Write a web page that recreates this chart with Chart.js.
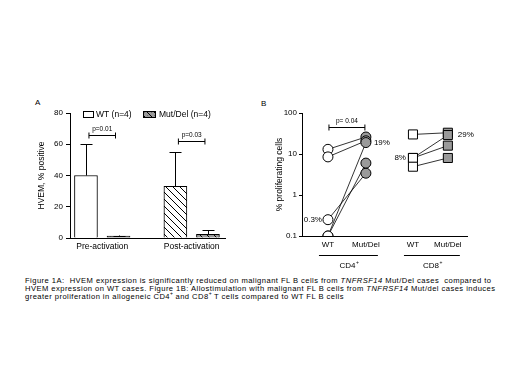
<!DOCTYPE html>
<html>
<head>
<meta charset="utf-8">
<script src="https://cdn.jsdelivr.net/npm/chart.js@4.4.0/dist/chart.umd.min.js"></script>
<style>
  html, body { margin: 0; padding: 0; background: #fff; }
  #page { position: relative; width: 520px; height: 390px; overflow: hidden; font-family: Arial, "Liberation Sans", sans-serif; color: #000; -webkit-font-smoothing: antialiased; }
  canvas { position: absolute; }
  .panel { position: absolute; font-size: 8px; }
  #caption { position: absolute; left: 25px; top: 276.5px; font-size: 7.6px; line-height: 8.2px; letter-spacing: 0.45px; white-space: nowrap; }
  #caption sup { font-size: 5px; line-height: 0; letter-spacing: 0; }
</style>
</head>
<body>
<div id="page">
  <div class="panel" style="left:35px; top:98px;">A</div>
  <div class="panel" style="left:261px; top:99px;">B</div>
  <canvas id="chart-a" width="200" height="165" style="left:30px; top:100px;"></canvas>
  <canvas id="chart-b" width="220" height="175" style="left:255px; top:100px;"></canvas>
  <div id="caption">
    Figure 1A:&nbsp; HVEM expression is significantly reduced on malignant FL B cells from <i>TNFRSF14</i> Mut/Del cases&nbsp; compared to<br>
    HVEM expression on WT cases. Figure 1B: Allostimulation with malignant FL B cells from <i>TNFRSF14</i> Mut/del cases induces<br>
    greater proliferation in allogeneic CD4<sup>+</sup> and CD8<sup>+</sup> T cells compared to WT FL B cells
  </div>
</div>
<script>
// ---- panel A: HVEM % positive ----
const phases = ['Pre-activation', 'Post-activation'];
const wtMean = [40, 33];
const wtSd = [20, 22];
const mutMean = [1.2, 2.4];
const mutSd = [0.4, 2.5];
const pLabelsA = ['p=0.01', 'p=0.03'];
const pLevelA = [66, 62];

// ---- panel B: % proliferating cells (log) ----
const groupLabels = ['WT', 'Mut/Del', 'WT', 'Mut/Del'];
const subsetLabels = ['CD4', 'CD8'];
const cd4Wt = [13, 8.5, 0.25, 0.1, 0.1];
const cd4Mut = [26, 21, 3.4, 19, 6];
const cd8Wt = [30, 8, 8, 4.9];
const cd8Mut = [33, 29, 16, 8];
const logTicks = [0.1, 1, 10, 100];
const pLabelB = 'p= 0.04';
const pLevelB = 46;

const FONT = 'Arial, "Liberation Sans", sans-serif';
const GREY = '#9a9a9a';

function makePattern(bg, hatch, dark) {
  const c = document.createElement('canvas');
  c.width = 7; c.height = 7;
  const g = c.getContext('2d');
  g.fillStyle = bg; g.fillRect(0, 0, 7, 7);
  if (dark) {
    g.fillStyle = '#6e6e6e';
    g.fillRect(0, 0, 1, 1); g.fillRect(3, 3, 1, 1); g.fillRect(5, 1, 1, 1); g.fillRect(2, 5, 1, 1);
  }
  if (hatch) {
    g.strokeStyle = '#000'; g.lineWidth = 1;
    g.beginPath(); g.moveTo(-1, -1); g.lineTo(8, 8); g.stroke();
    g.beginPath(); g.moveTo(-1, 6); g.lineTo(1, 8); g.stroke();
    g.beginPath(); g.moveTo(6, -1); g.lineTo(8, 1); g.stroke();
  }
  return g.createPattern(c, 'repeat');
}

// bar layout on a 0..10 linear axis
const groupCenters = [2.08, 7.85];
const barOffset = 1.05;

const fillsWt = ['#ffffff', makePattern('#ffffff', true, false)];
const fillsMut = [makePattern(GREY, false, true), makePattern(GREY, true, true)];

const errorBars = {
  id: 'errorBars',
  afterDatasetsDraw(chart) {
    const ctx = chart.ctx, y = chart.scales.y;
    const sds = [wtSd, mutSd], means = [wtMean, mutMean];
    ctx.save();
    ctx.strokeStyle = '#000'; ctx.lineWidth = 1;
    chart.data.datasets.forEach((ds, di) => {
      chart.getDatasetMeta(di).data.forEach((bar, i) => {
        const top = y.getPixelForValue(means[di][i] + sds[di][i]);
        const x = Math.round(bar.x) + 0.5;
        ctx.beginPath();
        ctx.moveTo(x, bar.y); ctx.lineTo(x, top);
        ctx.moveTo(x - 6, Math.round(top) + 0.5); ctx.lineTo(x + 6, Math.round(top) + 0.5);
        ctx.stroke();
      });
    });
    // significance brackets
    ctx.font = '6.5px ' + FONT; ctx.fillStyle = '#000'; ctx.textAlign = 'center'; ctx.textBaseline = 'bottom';
    const a = chart.getDatasetMeta(0).data, b = chart.getDatasetMeta(1).data;
    pLabelsA.forEach((p, i) => {
      const x1 = a[i].x + 3, x2 = b[i].x - 3, yy = Math.round(y.getPixelForValue(pLevelA[i])) + 0.5;
      ctx.beginPath();
      ctx.moveTo(x1, yy); ctx.lineTo(x2, yy);
      ctx.moveTo(x1, yy - 3); ctx.lineTo(x1, yy + 3);
      ctx.moveTo(x2, yy - 3); ctx.lineTo(x2, yy + 3);
      ctx.stroke();
      ctx.fillText(p, (x1 + x2) / 2, yy - 3);
    });
    // legend
    ctx.font = '8.5px ' + FONT; ctx.textAlign = 'left'; ctx.textBaseline = 'middle';
    const items = [[53, 10, 66], [113, 12, 129]];
    chart.data.datasets.forEach((ds, di) => {
      const [bx, bw, tx] = items[di];
      ctx.fillStyle = di === 0 ? '#fff' : fillsMut[1];
      ctx.fillRect(bx, 11, bw, 6);
      ctx.strokeRect(bx + 0.5, 11.5, bw, 6);
      ctx.fillStyle = '#000';
      ctx.fillText(ds.label, tx, 14.5);
    });
    ctx.restore();
  }
};

new Chart(document.getElementById('chart-a'), {
  type: 'bar',
  data: {
    datasets: [
      {
        label: 'WT (n=4)',
        data: wtMean.map((v, i) => ({ x: groupCenters[i] - barOffset, y: v })),
        backgroundColor: fillsWt, borderColor: '#000', borderWidth: 1,
        grouped: false, barThickness: 23,
      },
      {
        label: 'Mut/Del (n=4)',
        data: mutMean.map((v, i) => ({ x: groupCenters[i] + barOffset, y: v })),
        backgroundColor: fillsMut, borderColor: '#000', borderWidth: 1,
        grouped: false, barThickness: 23,
      },
    ],
  },
  options: {
    responsive: false, animation: false, devicePixelRatio: 1,
    layout: { padding: { top: 13, right: 5, left: 0, bottom: 0 } },
    plugins: { legend: { display: false }, tooltip: { enabled: false } },
    scales: {
      x: {
        type: 'linear', min: 0, max: 10, offset: false,
        afterBuildTicks: s => { s.ticks = groupCenters.map(v => ({ value: v })); },
        afterFit: s => { s.height = 27; },
        ticks: { color: '#000', font: { size: 8.5, family: FONT }, padding: 4, maxRotation: 0, autoSkip: false,
          callback: (v, i) => phases[i] },
        grid: { display: false, drawTicks: false },
        border: { display: true, color: '#000', width: 1 },
      },
      y: {
        min: 0, max: 80,
        afterFit: s => { s.width = 40; },
        ticks: { stepSize: 20, color: '#000', font: { size: 8, family: FONT }, padding: 3 },
        grid: { drawOnChartArea: false, tickLength: 4, color: '#000' },
        border: { display: true, color: '#000', width: 1 },
        title: { display: true, text: 'HVEM, % positive', color: '#000', font: { size: 8.5, family: FONT }, padding: { top: 7, bottom: 0 } },
      },
    },
  },
  plugins: [errorBars],
});

// ---- panel B ----
const xPos = [1, 2, 3.24, 4.16];

const lineSets = [];
const pointSets = [];
function addPairs(wt, mut, i0, style, radius) {
  wt.forEach((v, i) => {
    lineSets.push({
      type: 'line', order: 2,
      data: [{ x: xPos[i0], y: v }, { x: xPos[i0 + 1], y: mut[i] }],
      borderColor: '#000', borderWidth: 0.8, pointRadius: 0,
    });
  });
  pointSets.push({
    type: 'scatter', order: 1,
    data: wt.map(v => ({ x: xPos[i0], y: v })),
    pointStyle: style, pointRadius: radius, backgroundColor: '#fff', borderColor: '#000', borderWidth: 1,
  });
  pointSets.push({
    type: 'scatter', order: 1,
    data: mut.map(v => ({ x: xPos[i0 + 1], y: v })),
    pointStyle: style, pointRadius: radius, backgroundColor: GREY, borderColor: '#000', borderWidth: 1,
  });
}
addPairs(cd4Wt, cd4Mut, 0, 'circle', 5);
addPairs(cd8Wt, cd8Mut, 2, 'rect', 6.4);

const annotB = {
  id: 'annotB',
  afterDatasetsDraw(chart) {
    const ctx = chart.ctx, x = chart.scales.x, y = chart.scales.y;
    ctx.save();
    ctx.strokeStyle = '#000'; ctx.fillStyle = '#000'; ctx.lineWidth = 1;
    // p-value bracket
    const x1 = x.getPixelForValue(xPos[0]) + 1, x2 = x.getPixelForValue(xPos[1]) - 1;
    const yy = Math.round(y.getPixelForValue(pLevelB)) + 0.5;
    ctx.beginPath();
    ctx.moveTo(x1, yy); ctx.lineTo(x2, yy);
    ctx.moveTo(x1, yy - 3); ctx.lineTo(x1, yy + 3);
    ctx.moveTo(x2, yy - 3); ctx.lineTo(x2, yy + 3);
    ctx.stroke();
    ctx.font = '6.5px ' + FONT; ctx.textAlign = 'center'; ctx.textBaseline = 'bottom';
    ctx.fillText(pLabelB, (x1 + x2) / 2, yy - 3);
    // point labels
    ctx.font = '8px ' + FONT; ctx.textBaseline = 'middle';
    const labels = [
      ['0.3%', 0, cd4Wt[2], 'right', -6],
      ['19%', 1, cd4Mut[3], 'left', 8],
      ['8%', 2, cd8Wt[1], 'right', -7],
      ['29%', 3, cd8Mut[1], 'left', 10],
    ];
    labels.forEach(([t, xi, v, al, dx]) => {
      ctx.textAlign = al;
      ctx.fillText(t, x.getPixelForValue(xPos[xi]) + dx, y.getPixelForValue(v));
    });
    // subset underlines and labels
    const base = chart.chartArea.bottom;
    subsetLabels.forEach((s, k) => {
      const a = x.getPixelForValue(xPos[2 * k]) - 9, b = x.getPixelForValue(xPos[2 * k + 1]) + 12;
      ctx.beginPath();
      ctx.moveTo(a, base + 19.5); ctx.lineTo(b, base + 19.5);
      ctx.stroke();
      const cx = (a + b) / 2;
      ctx.font = '8px ' + FONT;
      ctx.textAlign = 'center';
      const w = ctx.measureText(s).width;
      ctx.fillText(s, cx - 1, base + 29.5);
      ctx.font = '5px ' + FONT;
      ctx.textAlign = 'left';
      ctx.fillText('+', cx - 1 + w / 2 + 0.5, base + 26.5);
    });
    ctx.restore();
  }
};

new Chart(document.getElementById('chart-b'), {
  type: 'scatter',
  data: { datasets: [...lineSets, ...pointSets] },
  options: {
    responsive: false, animation: false, devicePixelRatio: 1,
    layout: { padding: { top: 13, right: 7, left: 0, bottom: 0 } },
    plugins: { legend: { display: false }, tooltip: { enabled: false } },
    scales: {
      x: {
        type: 'linear', min: 0.316, max: 4.68,
        afterBuildTicks: s => { s.ticks = xPos.map(v => ({ value: v })); },
        afterFit: s => { s.height = 39; },
        ticks: { color: '#000', font: { size: 8, family: FONT }, padding: 4, maxRotation: 0, autoSkip: false,
          callback: (v, i) => groupLabels[i] },
        grid: { display: false, drawTicks: false },
        border: { display: true, color: '#000', width: 1 },
      },
      y: {
        type: 'logarithmic', min: 0.1, max: 100,
        afterBuildTicks: s => { s.ticks = logTicks.map(v => ({ value: v })); },
        afterFit: s => { s.width = 47; },
        ticks: { color: '#000', font: { size: 8, family: FONT }, padding: 2, callback: v => String(v) },
        grid: { drawOnChartArea: false, tickLength: 3, color: '#000' },
        border: { display: true, color: '#000', width: 1 },
        title: { display: true, text: '% proliferating cells', color: '#000', font: { size: 8.5, family: FONT }, padding: { top: 20, bottom: 0 } },
      },
    },
  },
  plugins: [annotB],
});
</script>
</body>
</html>
